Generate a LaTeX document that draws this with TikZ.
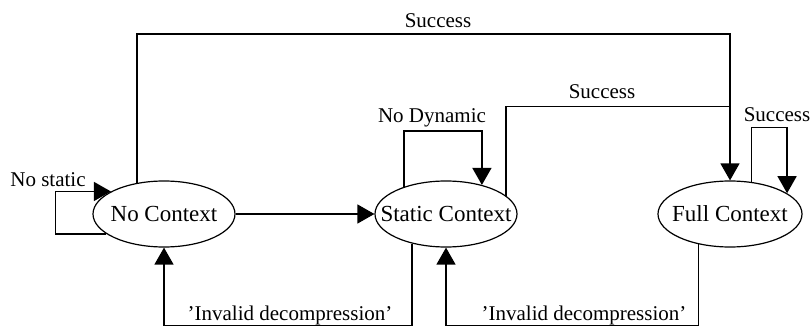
\documentclass[tikz,border=0pt]{standalone}
\usepackage{fontspec}
\setmainfont{Liberation Serif}
\usetikzlibrary{shapes.geometric,arrows.meta}
\begin{document}
\begin{tikzpicture}[x=1pt,y=1pt,
  state/.style={ellipse,draw,line width=1.2pt,inner sep=0pt,minimum width=142pt,minimum height=66pt,font=\fontsize{23}{27}\selectfont},
  conn/.style={line width=1.4pt,line join=miter},
  arr/.style={conn,-{Triangle[length=17pt,width=19pt]}},
  lbl/.style={anchor=base,inner sep=0pt,outer sep=0pt,font=\fontsize{21}{25}\selectfont}]
\definecolor{fillColor}{RGB}{255,255,255}
\path[use as bounding box,fill=fillColor] (0,0) rectangle (811,327);

% states
\node[state] (nocontext) at (164,113) {\makebox[0pt]{No Context}};
\node[state] (static) at (446,113) {\makebox[0pt]{Static Context}};
\node[state,minimum width=144pt] (full) at (730,113) {\makebox[0pt]{Full Context}};

% levels of the wires
\coordinate (ytop) at (0,293);
\coordinate (ymid) at (0,220.5);
\coordinate (ynodyn) at (0,196);
\coordinate (yfull) at (0,199.5);
\coordinate (ybase) at (0,1.5);

% transitions
\draw[arr] (nocontext.199) -- ++(-51,0) |- (nocontext.157);
\draw[arr] (nocontext) -- (static);
\draw[arr] (nocontext.131) |- (ytop -| full.north) -- (full.north);
\draw[conn] (static.17) |- (ymid -| full.north);
\draw[arr] (static.147) -- (static.147 |- ynodyn) -| (static.39);
\draw[arr] (full.56) -- (full.56 |- yfull) -| (full.20);
\draw[arr] (static.221) -- (static.221 |- ybase) -| (nocontext.south);
\draw[arr] (full.224) -- (full.224 |- ybase) -| (static.south);

% labels
\node[lbl] (nostatic) at (48,140) {No static};
\node[lbl] (succtop) at (438,299) {Success};
\node[lbl] (succmid) at (602,228) {Success};
\node[lbl] (nodynamic) at (432,204) {No Dynamic};
\node[lbl] (succfull) at (777,205) {Success};
\node[lbl] (invalidA) at (290,7) {'Invalid decompression'};
\node[lbl] (invalidB) at (584,7) {'Invalid decompression'};
\end{tikzpicture}
\end{document}
